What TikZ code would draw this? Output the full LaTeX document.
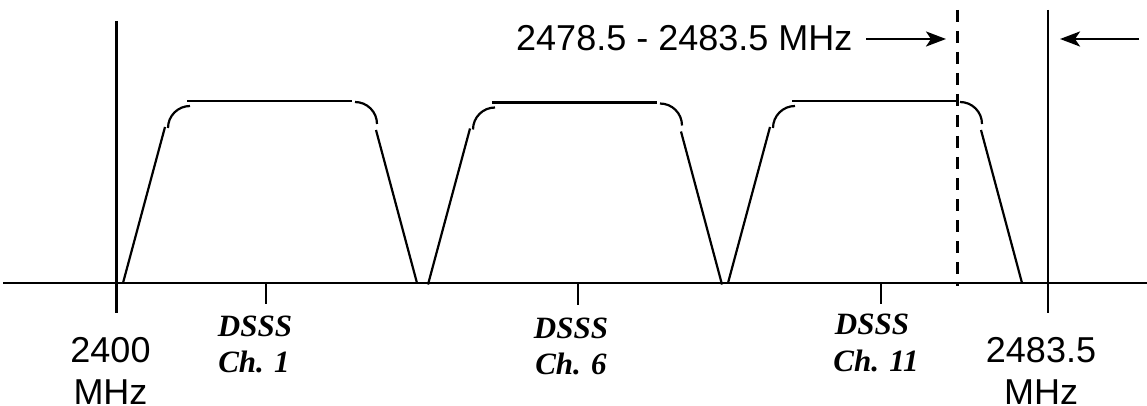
\documentclass[tikz,border=0pt]{standalone}
\usepackage{fontspec}
\setmainfont{Liberation Sans}
\newfontfamily\serifbi{Liberation Serif}
\usetikzlibrary{arrows.meta}
\begin{document}
\begin{tikzpicture}[x=1pt,y=-1pt,
  ln/.style={line width=2.2pt,black},
  tick/.style={line width=2pt,black},
  sanslbl/.style={font=\fontsize{36}{43}\selectfont, inner sep=0pt, anchor=base},
  chlbl/.style={font=\serifbi\bfseries\itshape\fontsize{31}{36}\selectfont, inner sep=0pt, anchor=base},
  tip/.style={-{Stealth[length=20pt,width=15pt,inset=5pt]}, line width=2.5pt},
  chan/.pic={
    \draw[ln] (0,283) -- (42,127);
    \draw[ln] (45,128) arc[start angle=180, end angle=270, radius=22];
    \draw[ln] (64,101) -- (229,101);
    \draw[ln] (232,102) arc[start angle=270, end angle=360, radius=22];
    \draw[ln] (253,130) -- (294,283);
  }
]
\useasboundingbox (0,0) rectangle (1147,406);
% axis and vertical lines
\coordinate (axL) at (3,283);
\coordinate (axR) at (1147,283);
\draw[ln] (axL) -- (axR);
\coordinate (lvT) at (116.5,21);
\coordinate (lvB) at (116.5,313);
\draw[ln] (lvT) -- (lvB);
\coordinate (rvT) at (1048,10);
\coordinate (rvB) at (1048,313);
\draw[ln] (rvT) -- (rvB);
\coordinate (dvT) at (957,10);
\coordinate (dvB) at (957,286);
\draw[line width=3pt, dash pattern=on 12pt off 9pt] (dvT) -- (dvB);
% channel centre ticks
\coordinate (t1a) at (266,283); \coordinate (t1b) at (266,304);
\coordinate (t2a) at (578,283); \coordinate (t2b) at (578,305);
\coordinate (t3a) at (881,283); \coordinate (t3b) at (881,304);
\draw[tick] (t1a) -- (t1b);
\draw[tick] (t2a) -- (t2b);
\draw[tick] (t3a) -- (t3b);
% channel masks
\pic at (123,0) {chan};
\pic at (428,1.5) {chan};
\pic at (728,0) {chan};
% labels
\node[sanslbl] (l2400) at (110.5,362) {2400};
\node[sanslbl] (l2400u) at (110.5,404) {MHz};
\node[sanslbl] (l2483) at (1041,362) {2483.5};
\node[sanslbl] (l2483u) at (1041,404) {MHz};
\node[chlbl] (c1a) at (255,336) {DSSS};
\node[chlbl] (c1b) at (254,372) {Ch. 1};
\node[chlbl] (c6a) at (571,338) {DSSS};
\node[chlbl] (c6b) at (571,374) {Ch. 6};
\node[chlbl] (c11a) at (872,334) {DSSS};
\node[chlbl] (c11b) at (876,371) {Ch. 11};
\node[sanslbl, anchor=base west] (band) at (516,51) {2478.5 - 2483.5 MHz};
% arrows
\coordinate (a1s) at (866,39);
\coordinate (a1e) at (946,39);
\coordinate (a2s) at (1139,39);
\coordinate (a2e) at (1060,39);
\draw[tip] (a1s) -- (a1e);
\draw[tip] (a2s) -- (a2e);
\end{tikzpicture}
\end{document}
